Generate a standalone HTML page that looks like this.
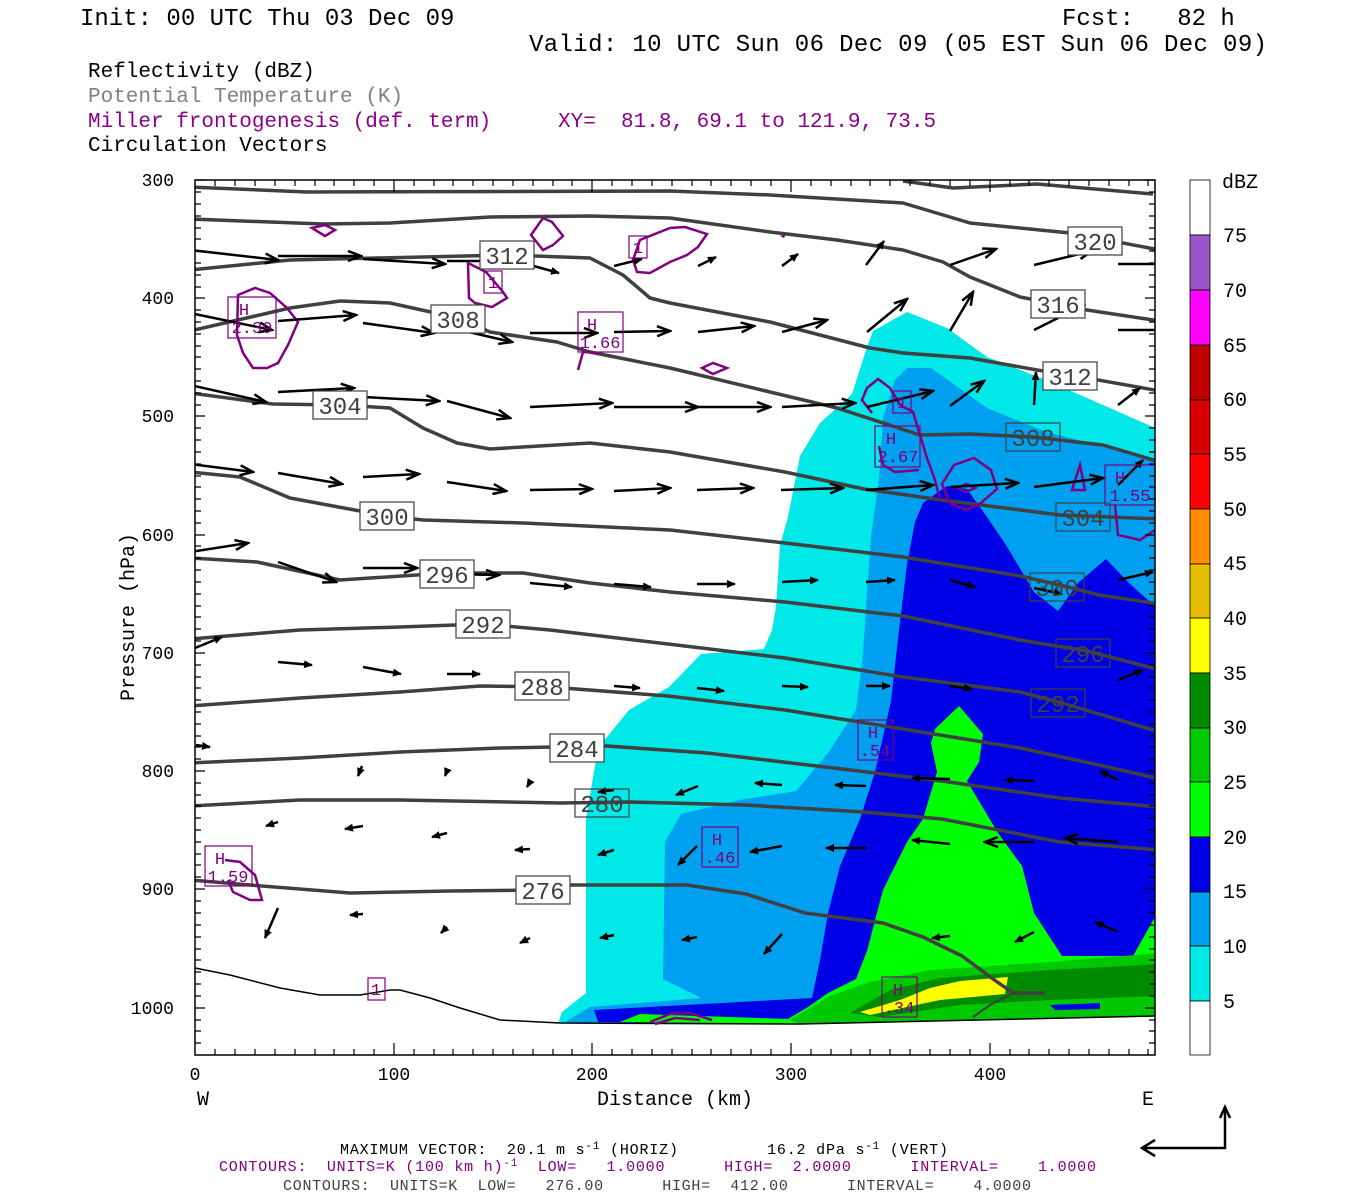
<!DOCTYPE html>
<html><head><meta charset="utf-8"><style>
html,body{margin:0;padding:0;background:#fff}
svg{display:block}
text{font-family:"Liberation Mono","DejaVu Sans Mono",monospace;white-space:pre}
</style></head><body>
<svg width="1350" height="1200" viewBox="0 0 1350 1200" xmlns="http://www.w3.org/2000/svg" xml:space="preserve">
<defs>
<clipPath id="pc"><rect x="195" y="180" width="960" height="875"/></clipPath>
<marker id="b" markerWidth="16" markerHeight="12" refX="14" refY="6" orient="auto" markerUnits="userSpaceOnUse"><path d="M1,1 L14,6 L1,11" fill="none" stroke="#000" stroke-width="2.5"/></marker>
<marker id="s" markerWidth="10" markerHeight="8" refX="8" refY="4" orient="auto" markerUnits="userSpaceOnUse"><path d="M0,0 L9,4 L0,8 Z" fill="#000"/></marker>
</defs>

<text x="80" y="25" font-size="24">Init: 00 UTC Thu 03 Dec 09</text>
<text x="1062" y="25" font-size="24">Fcst:   82 h</text>
<text x="529" y="51" font-size="24" textLength="738">Valid: 10 UTC Sun 06 Dec 09 (05 EST Sun 06 Dec 09)</text>
<text x="88" y="77" font-size="21">Reflectivity (dBZ)</text>
<text x="88" y="102" font-size="21" fill="#808080">Potential Temperature (K)</text>
<text x="88" y="127" font-size="21" fill="#8b008b">Miller frontogenesis (def. term)</text>
<text x="558" y="127" font-size="21" fill="#8b008b">XY=  81.8, 69.1 to 121.9, 73.5</text>
<text x="88" y="151" font-size="21">Circulation Vectors</text>

<g clip-path="url(#pc)">
<polygon fill="#00e8e8" points="873,331 907,312 947,328 987,357 1046,380 1160,430 1160,1016 800,1024 558,1024 562,1012 586,993 586,819 598,748 629,710 669,687 701,654 764,649 772,630 776,607 780,545 788,517 800,456 820,423 852,394 867,347"/>
<polygon fill="#00a0f0" points="907,368 931,368 987,408 1046,432 1160,460 1160,1016 800,1024 562,1024 590,1007 701,998 663,979 665,842 681,814 740,800 796,791 828,753 856,710 863,654 867,592 871,536 879,479 883,418 895,380"/>
<polygon fill="#0000e6" points="923,503 947,486 967,489 987,517 1006,545 1034,592 1058,611 1078,583 1106,559 1129,583 1160,611 1160,1016 800,1024 598,1022 594,1010 812,998 820,960 828,913 840,866 860,819 875,772 891,701 899,630 907,564 915,522"/>
<polygon fill="#00ff00" points="959,706 983,734 979,762 967,781 998,833 1022,866 1034,913 1062,956 1133,956 1160,908 1160,1016 800,1024 620,1022 640,1014 788,1019 808,1007 828,993 856,979 867,951 883,890 907,842 923,819 937,772 931,743 935,729"/>
<polygon fill="#00c800" points="790,1020 830,996 870,982 930,970 1050,962 1160,953 1160,1016 800,1024"/>
<polygon fill="#008a00" points="850,1013 890,990 940,978 1050,970 1160,964 1160,996 1050,1000 960,1005 880,1017"/>
<polygon fill="#ffff00" points="860,1012 900,1000 930,988 960,981 1008,977 1005,994 940,1000 870,1015"/>
<polygon fill="#0000e6" points="1050,1005 1100,1003 1100,1009 1055,1010"/>
<polygon fill="#fff" points="195,968 230,975 280,988 320,995 360,995 390,990 400,990 430,998 460,1008 500,1020 560,1023 800,1024 1155,1016 1160,1060 190,1060"/>
</g>

<g fill="none" stroke="#404040" stroke-width="3.5" clip-path="url(#pc)" stroke-linejoin="round">
<polyline points="903,181 953,188 1037,184 1153,194"/>
<polyline points="190,187 307,192 670,191 770,195 903,203 970,223 1070,233 1160,250"/>
<polyline points="190,219 323,224 390,223 490,217 590,216 670,218 770,232 837,240 903,250 943,262 970,277 1020,297 1057,304 1087,310 1160,321"/>
<polyline points="190,270 290,260 423,257 507,255 590,258 623,275 650,298 670,303 770,322 870,348 903,353 970,358 1037,370 1070,375 1160,391"/>
<polyline points="190,331 290,308 340,301 390,303 458,318 490,332 557,342 590,352 670,368 770,392 837,408 920,435 970,434 1033,437 1103,445 1160,462"/>
<polyline points="190,393 273,404 340,405 390,408 423,428 457,443 490,449 590,443 670,452 785,472 864,489 942,500 1060,515 1160,519"/>
<polyline points="190,472 240,477 290,498 387,516 423,520 523,523 670,530 785,543 903,557 1020,576 1060,585 1099,595 1160,604"/>
<polyline points="190,558 257,562 340,580 447,573 523,573 590,583 670,592 785,602 903,616 1020,640 1087,651 1160,670"/>
<polyline points="190,639 300,630 400,627 483,624 550,630 668,644 785,658 903,677 1020,692 1062,703 1160,732"/>
<polyline points="190,706 300,698 400,692 480,686 550,687 668,696 785,710 903,729 1020,748 1099,765 1160,779"/>
<polyline points="190,763 300,758 400,752 500,748 607,746 707,753 825,767 942,781 1060,798 1160,807"/>
<polyline points="190,806 300,800 400,800 560,803 630,802 746,805 864,812 942,819 1060,842 1160,850"/>
<polyline points="190,880 250,885 350,893 450,891 543,890 570,885 687,885 746,894 805,913 883,923 923,937 962,956 993,979 1013,993 1045,993"/>
<polyline points="1013,993 990,1005 973,1017" stroke-width="2"/>
</g>
<polyline fill="none" stroke="#000" stroke-width="1.5" points="195,968 230,975 280,988 320,995 360,995 390,990 400,990 430,998 460,1008 500,1020 560,1023 800,1024 1155,1016"/>

<g fill="none" stroke="#800080" stroke-width="2.5" clip-path="url(#pc)">
<polygon points="312,228 325,225 335,230 325,236"/>
<polygon points="531,235 543,218 552,222 563,236 553,245 543,250"/>
<polygon points="468,263 486,272 503,292 507,298 492,307 475,303 469,298"/>
<polygon points="633,260 640,240 670,228 685,227 707,234 698,247 687,255 670,262 650,273 637,272"/>
<polygon points="238,295 255,288 270,293 287,308 298,322 288,345 278,363 267,368 253,368 243,353 237,335"/>
<polyline points="578,370 583,352 600,353"/>
<polygon points="702,368 713,363 727,368 713,374"/>
<polyline points="872,413 862,400 867,388 878,379 890,388 900,405 913,412 920,435 927,458 935,480 940,500"/>
<polyline points="879,446 883,465 895,472 919,470"/>
<polygon points="942,484 954,465 974,458 991,470 997,489 981,503 966,510 950,503"/>
<polygon points="958,488 966,484 975,488 966,492"/>
<polygon points="1072,490 1080,465 1085,490"/>
<polyline points="1115,505 1118,535 1140,540 1155,530"/>
<polyline points="225,860 240,862 255,875 262,900 250,900 233,892 228,880"/>
<polyline points="650,1022 670,1014 690,1013 712,1020"/>
<polyline points="655,1024 675,1018 700,1020"/>
</g>
<polygon points="780,236 786,234 784,238" fill="#800080"/>

<g stroke="#000" stroke-width="2.5" clip-path="url(#pc)">
<g marker-end="url(#b)">
<line x1="190" y1="250" x2="278" y2="260"/><line x1="278" y1="256" x2="361" y2="256"/><line x1="363" y1="259" x2="445" y2="264"/><line x1="447" y1="261" x2="514" y2="261"/><line x1="950" y1="265" x2="996" y2="249"/><line x1="1034" y1="265" x2="1092" y2="251"/>
<line x1="190" y1="313" x2="272" y2="330"/><line x1="278" y1="321" x2="356" y2="315"/><line x1="363" y1="323" x2="434" y2="333"/><line x1="447" y1="327" x2="512" y2="342"/><line x1="530" y1="333" x2="597" y2="333"/><line x1="614" y1="332" x2="670" y2="331"/><line x1="698" y1="332" x2="754" y2="326"/><line x1="782" y1="332" x2="827" y2="320"/><line x1="867" y1="332" x2="907" y2="299"/><line x1="950" y1="331" x2="973" y2="292"/><line x1="1034" y1="330" x2="1084" y2="305"/>
<line x1="190" y1="385" x2="266" y2="402"/><line x1="278" y1="392" x2="354" y2="388"/><line x1="363" y1="397" x2="439" y2="401"/><line x1="447" y1="401" x2="510" y2="418"/><line x1="530" y1="407" x2="612" y2="403"/><line x1="614" y1="407" x2="698" y2="407"/><line x1="698" y1="407" x2="770" y2="407"/><line x1="782" y1="407" x2="855" y2="403"/><line x1="867" y1="407" x2="933" y2="391"/><line x1="950" y1="406" x2="984" y2="381"/>
<line x1="190" y1="464" x2="253" y2="472"/><line x1="278" y1="473" x2="342" y2="484"/><line x1="363" y1="477" x2="419" y2="474"/><line x1="447" y1="482" x2="506" y2="491"/><line x1="530" y1="490" x2="592" y2="489"/><line x1="614" y1="491" x2="670" y2="488"/><line x1="697" y1="490" x2="753" y2="488"/><line x1="781" y1="490" x2="843" y2="488"/><line x1="866" y1="490" x2="933" y2="485"/><line x1="950" y1="487" x2="1018" y2="483"/><line x1="1034" y1="487" x2="1103" y2="478"/>
<line x1="190" y1="552" x2="248" y2="543"/><line x1="278" y1="562" x2="336" y2="582"/><line x1="363" y1="568" x2="417" y2="568"/><line x1="447" y1="574" x2="499" y2="575"/>
<line x1="1034" y1="842" x2="985" y2="842"/><line x1="1118" y1="842" x2="1065" y2="838"/>
</g>
<g marker-end="url(#s)">
<line x1="530" y1="265" x2="559" y2="273"/><line x1="614" y1="266" x2="642" y2="259"/><line x1="698" y1="266" x2="716" y2="257"/><line x1="782" y1="266" x2="798" y2="254"/><line x1="866" y1="265" x2="884" y2="241"/>
<line x1="1034" y1="405" x2="1036" y2="372"/><line x1="1118" y1="405" x2="1140" y2="388"/><line x1="1118" y1="485" x2="1143" y2="460"/>
<line x1="530" y1="583" x2="572" y2="587"/><line x1="614" y1="584" x2="651" y2="587"/><line x1="697" y1="584" x2="735" y2="584"/><line x1="782" y1="582" x2="818" y2="580"/><line x1="866" y1="582" x2="895" y2="580"/><line x1="950" y1="580" x2="975" y2="587"/><line x1="1034" y1="588" x2="1062" y2="594"/><line x1="1118" y1="580" x2="1153" y2="572"/>
<line x1="195" y1="648" x2="222" y2="637"/><line x1="278" y1="662" x2="312" y2="665"/><line x1="363" y1="667" x2="401" y2="674"/><line x1="447" y1="674" x2="480" y2="674"/><line x1="530" y1="686" x2="563" y2="690"/><line x1="614" y1="686" x2="640" y2="688"/><line x1="697" y1="688" x2="724" y2="691"/><line x1="782" y1="686" x2="808" y2="687"/><line x1="866" y1="686" x2="890" y2="686"/><line x1="950" y1="686" x2="972" y2="689"/><line x1="1118" y1="680" x2="1143" y2="670"/>
<line x1="196" y1="745" x2="210" y2="747"/><line x1="362" y1="766" x2="358" y2="776"/><line x1="447" y1="771" x2="445" y2="776"/><line x1="530" y1="782" x2="527" y2="787"/><line x1="614" y1="790" x2="598" y2="792"/><line x1="698" y1="786" x2="676" y2="795"/><line x1="782" y1="785" x2="755" y2="783"/><line x1="866" y1="786" x2="835" y2="785"/><line x1="950" y1="779" x2="912" y2="778"/><line x1="1034" y1="781" x2="1005" y2="780"/><line x1="1118" y1="780" x2="1100" y2="771"/>
<line x1="278" y1="822" x2="266" y2="826"/><line x1="363" y1="826" x2="345" y2="829"/><line x1="447" y1="833" x2="432" y2="837"/><line x1="530" y1="849" x2="515" y2="850"/><line x1="614" y1="850" x2="598" y2="855"/><line x1="697" y1="846" x2="678" y2="865"/><line x1="782" y1="846" x2="750" y2="852"/><line x1="866" y1="848" x2="826" y2="848"/><line x1="950" y1="844" x2="912" y2="840"/>
<line x1="278" y1="908" x2="265" y2="938"/><line x1="363" y1="914" x2="350" y2="915"/><line x1="447" y1="927" x2="441" y2="933"/><line x1="530" y1="938" x2="520" y2="943"/><line x1="614" y1="935" x2="600" y2="938"/><line x1="697" y1="937" x2="682" y2="940"/><line x1="782" y1="934" x2="764" y2="954"/><line x1="950" y1="936" x2="932" y2="938"/><line x1="1034" y1="932" x2="1015" y2="942"/><line x1="1118" y1="932" x2="1095" y2="922"/>
</g>
<line x1="1118" y1="264" x2="1155" y2="264"/><line x1="1118" y1="330" x2="1155" y2="330"/>
</g>

<g font-size="24" text-anchor="middle" fill="#404040">
<g stroke="#404040" stroke-width="1.2">
<rect x="1068" y="227" width="54" height="28" fill="#fff"/><rect x="1031" y="290" width="54" height="28" fill="#fff"/><rect x="1043" y="362" width="54" height="28" fill="#fff"/><rect x="1006" y="423" width="54" height="28" fill="none"/><rect x="1056" y="503" width="54" height="28" fill="none"/><rect x="1030" y="573" width="54" height="28" fill="none"/><rect x="1056" y="639" width="54" height="28" fill="none"/><rect x="1031" y="689" width="54" height="28" fill="none"/>
<rect x="480" y="241" width="54" height="28" fill="#fff"/><rect x="431" y="305" width="54" height="28" fill="#fff"/><rect x="313" y="391" width="54" height="28" fill="#fff"/><rect x="360" y="502" width="54" height="28" fill="#fff"/><rect x="420" y="560" width="54" height="28" fill="#fff"/><rect x="456" y="610" width="54" height="28" fill="#fff"/><rect x="515" y="672" width="54" height="28" fill="#fff"/><rect x="550" y="734" width="54" height="28" fill="#fff"/><rect x="575" y="789" width="54" height="28" fill="none"/><rect x="516" y="876" width="54" height="28" fill="#fff"/>
</g>
<text x="1095" y="250">320</text><text x="1058" y="313">316</text><text x="1070" y="385">312</text><text x="1033" y="446">308</text><text x="1083" y="526">304</text><text x="1057" y="596">300</text><text x="1083" y="662">296</text><text x="1058" y="712">292</text>
<text x="507" y="264">312</text><text x="458" y="328">308</text><text x="340" y="414">304</text><text x="387" y="525">300</text><text x="447" y="583">296</text><text x="483" y="633">292</text><text x="542" y="695">288</text><text x="577" y="757">284</text><text x="602" y="812">280</text><text x="543" y="899">276</text>
</g>

<g font-size="17" text-anchor="middle" fill="#800080">
<g fill="none" stroke="#800080" stroke-width="1.2">
<rect x="228" y="297" width="48" height="41"/><rect x="578" y="312" width="45" height="40"/><rect x="875" y="426" width="45" height="41"/><rect x="1105" y="465" width="50" height="40"/><rect x="858" y="720" width="35" height="40"/><rect x="702" y="827" width="36" height="40"/><rect x="205" y="846" width="47" height="40"/><rect x="882" y="977" width="35" height="40"/>
<rect x="629" y="236" width="18" height="22"/><rect x="484" y="271" width="18" height="22"/><rect x="893" y="391" width="18" height="22"/><rect x="368" y="978" width="17" height="22"/>
</g>
<text x="244" y="315">H</text><text x="252" y="333">2.39</text>
<text x="592" y="330">H</text><text x="600" y="348">1.66</text>
<text x="891" y="444">H</text><text x="898" y="462">2.67</text>
<text x="1120" y="483">H</text><text x="1130" y="501">1.55</text>
<text x="873" y="738">H</text><text x="875" y="756">.54</text>
<text x="717" y="845">H</text><text x="720" y="863">.46</text>
<text x="220" y="864">H</text><text x="228" y="882">1.59</text>
<text x="898" y="995">H</text><text x="899" y="1013">.34</text>
<text x="638" y="253">1</text><text x="493" y="288">1</text><text x="902" y="408">1</text><text x="376" y="995">1</text>
</g>

<rect x="195" y="180" width="960" height="875" fill="none" stroke="#000" stroke-width="1.5"/>
<g stroke="#000" stroke-width="1.2">
<path d="M195,180h10M195,298h10M195,416h10M195,535h10M195,653h10M195,771h10M195,889h10M195,1008h10M1155,180h-10M1155,298h-10M1155,416h-10M1155,535h-10M1155,653h-10M1155,771h-10M1155,889h-10M1155,1008h-10"/>
<path d="M195,192h6M195,204h6M195,216h6M195,228h6M195,239h6M195,251h6M195,263h6M195,275h6M195,287h6M195,310h6M195,322h6M195,334h6M195,346h6M195,357h6M195,369h6M195,381h6M195,393h6M195,405h6M195,428h6M195,440h6M195,452h6M195,464h6M195,476h6M195,487h6M195,499h6M195,511h6M195,523h6M195,546h6M195,558h6M195,570h6M195,582h6M195,594h6M195,606h6M195,617h6M195,629h6M195,641h6M195,665h6M195,677h6M195,688h6M195,700h6M195,712h6M195,724h6M195,736h6M195,747h6M195,759h6M195,783h6M195,795h6M195,806h6M195,818h6M195,830h6M195,842h6M195,854h6M195,865h6M195,877h6M195,901h6M195,913h6M195,925h6M195,937h6M195,949h6M195,960h6M195,972h6M195,984h6M195,996h6M195,1020h6M195,1031h6M195,1043h6"/>
<path d="M1155,192h-6M1155,204h-6M1155,216h-6M1155,228h-6M1155,239h-6M1155,251h-6M1155,263h-6M1155,275h-6M1155,287h-6M1155,310h-6M1155,322h-6M1155,334h-6M1155,346h-6M1155,357h-6M1155,369h-6M1155,381h-6M1155,393h-6M1155,405h-6M1155,428h-6M1155,440h-6M1155,452h-6M1155,464h-6M1155,476h-6M1155,487h-6M1155,499h-6M1155,511h-6M1155,523h-6M1155,546h-6M1155,558h-6M1155,570h-6M1155,582h-6M1155,594h-6M1155,606h-6M1155,617h-6M1155,629h-6M1155,641h-6M1155,665h-6M1155,677h-6M1155,688h-6M1155,700h-6M1155,712h-6M1155,724h-6M1155,736h-6M1155,747h-6M1155,759h-6M1155,783h-6M1155,795h-6M1155,806h-6M1155,818h-6M1155,830h-6M1155,842h-6M1155,854h-6M1155,865h-6M1155,877h-6M1155,901h-6M1155,913h-6M1155,925h-6M1155,937h-6M1155,949h-6M1155,960h-6M1155,972h-6M1155,984h-6M1155,996h-6M1155,1020h-6M1155,1031h-6M1155,1043h-6"/>
<path d="M215,180v6M235,180v6M255,180v6M275,180v6M295,180v6M315,180v6M334,180v6M354,180v6M374,180v6M394,180v12M414,180v6M434,180v6M453,180v6M473,180v6M493,180v6M513,180v6M533,180v6M553,180v6M572,180v6M592,180v12M612,180v6M632,180v6M652,180v6M672,180v6M692,180v6M711,180v6M731,180v6M751,180v6M771,180v6M791,180v12M811,180v6M831,180v6M851,180v6M870,180v6M890,180v6M910,180v6M930,180v6M950,180v6M970,180v6M990,180v12M1010,180v6M1029,180v6M1049,180v6M1069,180v6M1089,180v6M1109,180v6M1129,180v6M1148,180v6"/>
<path d="M215,1055v-6M235,1055v-6M255,1055v-6M275,1055v-6M295,1055v-6M315,1055v-6M334,1055v-6M354,1055v-6M374,1055v-6M394,1055v-12M414,1055v-6M434,1055v-6M453,1055v-6M473,1055v-6M493,1055v-6M513,1055v-6M533,1055v-6M553,1055v-6M572,1055v-6M592,1055v-12M612,1055v-6M632,1055v-6M652,1055v-6M672,1055v-6M692,1055v-6M711,1055v-6M731,1055v-6M751,1055v-6M771,1055v-6M791,1055v-12M811,1055v-6M831,1055v-6M851,1055v-6M870,1055v-6M890,1055v-6M910,1055v-6M930,1055v-6M950,1055v-6M970,1055v-6M990,1055v-12M1010,1055v-6M1029,1055v-6M1049,1055v-6M1069,1055v-6M1089,1055v-6M1109,1055v-6M1129,1055v-6M1148,1055v-6"/>
</g>
<g font-size="18" text-anchor="end">
<text x="174" y="186">300</text><text x="174" y="304">400</text><text x="174" y="422">500</text><text x="174" y="541">600</text><text x="174" y="659">700</text><text x="174" y="777">800</text><text x="174" y="895">900</text><text x="174" y="1014">1000</text>
</g>
<g font-size="18" text-anchor="middle">
<text x="195" y="1080">0</text><text x="394" y="1080">100</text><text x="592" y="1080">200</text><text x="791" y="1080">300</text><text x="990" y="1080">400</text>
</g>
<text x="203" y="1105" font-size="20" text-anchor="middle">W</text>
<text x="1148" y="1105" font-size="20" text-anchor="middle">E</text>
<text x="675" y="1105" font-size="20" text-anchor="middle">Distance (km)</text>
<text transform="translate(134,617) rotate(-90)" font-size="20" text-anchor="middle">Pressure (hPa)</text>

<g stroke="#000" stroke-width="0.8">
<rect x="1190" y="180" width="20" height="55" fill="#fff"/>
<rect x="1190" y="235" width="20" height="55" fill="#9a55c8"/>
<rect x="1190" y="290" width="20" height="55" fill="#ff00ff"/>
<rect x="1190" y="345" width="20" height="55" fill="#c00000"/>
<rect x="1190" y="400" width="20" height="54" fill="#d80000"/>
<rect x="1190" y="454" width="20" height="55" fill="#ff0000"/>
<rect x="1190" y="509" width="20" height="55" fill="#ff8c00"/>
<rect x="1190" y="564" width="20" height="54" fill="#e6c000"/>
<rect x="1190" y="618" width="20" height="55" fill="#ffff00"/>
<rect x="1190" y="673" width="20" height="55" fill="#008a00"/>
<rect x="1190" y="728" width="20" height="54" fill="#00c800"/>
<rect x="1190" y="782" width="20" height="55" fill="#00ff00"/>
<rect x="1190" y="837" width="20" height="55" fill="#0000e6"/>
<rect x="1190" y="892" width="20" height="54" fill="#00a0f0"/>
<rect x="1190" y="946" width="20" height="55" fill="#00e8e8"/>
<rect x="1190" y="1001" width="20" height="54" fill="#fff"/>
</g>
<g font-size="20">
<text x="1222" y="188">dBZ</text>
<text x="1223" y="242">75</text><text x="1223" y="297">70</text><text x="1223" y="352">65</text><text x="1223" y="406">60</text><text x="1223" y="461">55</text><text x="1223" y="516">50</text><text x="1223" y="570">45</text><text x="1223" y="625">40</text><text x="1223" y="680">35</text><text x="1223" y="734">30</text><text x="1223" y="789">25</text><text x="1223" y="844">20</text><text x="1223" y="898">15</text><text x="1223" y="953">10</text><text x="1223" y="1008">5</text>
</g>

<text x="340" y="1154" font-size="15" textLength="608" lengthAdjust="spacing">MAXIMUM VECTOR:  20.1 m s<tspan dy="-5" font-size="11">-1</tspan><tspan dy="5"> (HORIZ)         16.2 dPa s</tspan><tspan dy="-5" font-size="11">-1</tspan><tspan dy="5"> (VERT)</tspan></text>
<text x="219" y="1171" font-size="15" fill="#800080" textLength="877" lengthAdjust="spacing">CONTOURS:  UNITS=K (100 km h)<tspan dy="-5" font-size="11">-1</tspan><tspan dy="5">  LOW=   1.0000      HIGH=  2.0000      INTERVAL=    1.0000</tspan></text>
<text x="283" y="1190" font-size="15" fill="#404040" textLength="748" lengthAdjust="spacing">CONTOURS:  UNITS=K  LOW=   276.00      HIGH=  412.00      INTERVAL=    4.0000</text>

<g stroke="#000" stroke-width="2.5" fill="none">
<polyline points="1225,1110 1225,1148 1143,1148"/>
<polyline points="1155,1140 1142,1148 1155,1156"/>
<polyline points="1220,1118 1225,1107 1230,1118"/>
</g>
</svg>
</body></html>
